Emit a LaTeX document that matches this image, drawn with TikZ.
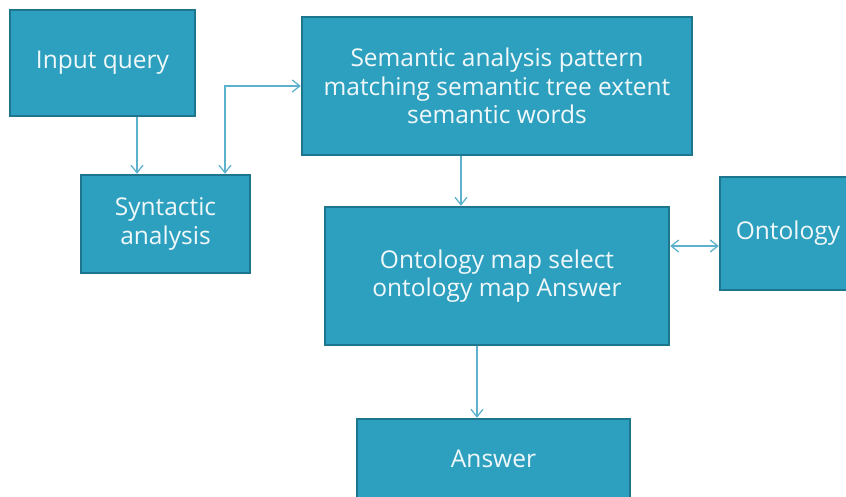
\documentclass[tikz,border=0pt]{standalone}
\usepackage{fontspec}
\setmainfont{Open Sans}
\usetikzlibrary{arrows.meta, positioning}

\definecolor{boxfill}{RGB}{45,160,192}
\definecolor{boxline}{RGB}{30,118,142}
\definecolor{linkcol}{RGB}{92,178,204}
\definecolor{txtcol}{RGB}{240,248,250}

\tikzset{
  stage/.style={rectangle, fill=boxfill, draw=boxline, line width=2.4pt,
                text=txtcol, align=center, inner sep=0pt,
                font=\fontsize{24.5}{28.5}\selectfont},
}

\begin{document}
\begin{tikzpicture}[x=1pt, y=-1pt]
\useasboundingbox (0,0) rectangle (846,497);
\node[stage, minimum width=185, minimum height=106] (query) at (102.5,63) {Input query};
\node[stage, minimum width=169, minimum height=98] (syn) at (165.5,224) {Syntactic\\analysis};
\node[stage, minimum width=390, minimum height=138] (sem) at (497,86)
     {Semantic analysis pattern\\matching semantic tree extent\\semantic words};
\node[stage, minimum width=344, minimum height=138] (map) at (497,276)
     {Ontology map select\\ontology map Answer};
\node[stage, minimum width=136, minimum height=113] (ont) at (788,233.5) {Ontology};
\node[stage, minimum width=273, minimum height=80] (ans) at (493.5,459) {Answer};
\begin{scope}[>={Straight Barb[length=7.5pt,width=12pt]},
              every path/.style={draw=linkcol, line width=1.3pt}]
    \draw[->] ([xshift=34.5pt]query.south) -- ([xshift=34.5pt]query.south |- syn.north);
    \draw[<->] ([xshift=59.5pt]syn.north) |- (sem.west);
    \draw[->] ([xshift=-36pt]sem.south) -- ([xshift=-36pt]sem.south |- map.north);
    \draw[<->] ([yshift=30pt]map.east) -- ([yshift=30pt]map.east -| ont.west);
    \draw[->] ([xshift=-20pt]map.south) -- ([xshift=-20pt]map.south |- ans.north);
\end{scope}
\end{tikzpicture}
\end{document}
